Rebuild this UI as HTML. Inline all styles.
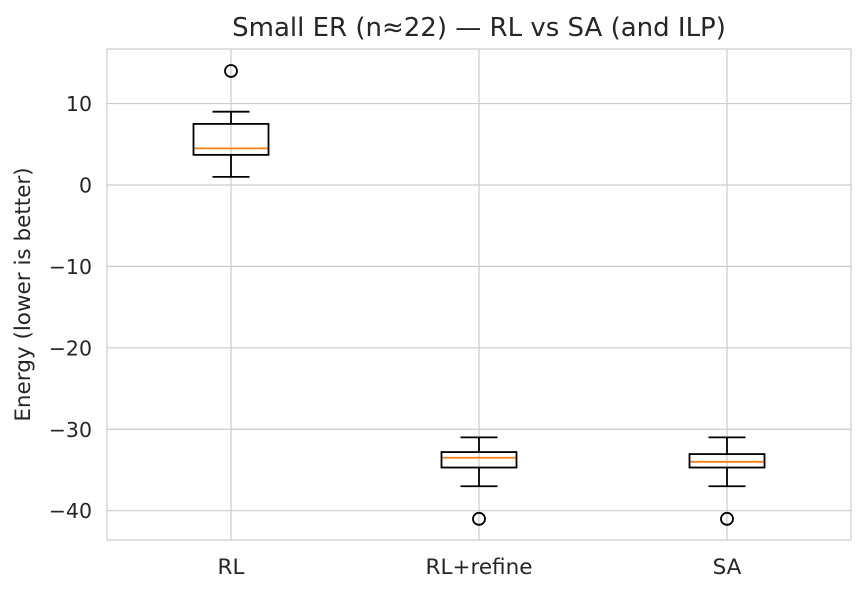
<!DOCTYPE html>
<html><head><meta charset="utf-8"><style>
body{margin:0;background:#fff;font-family:"DejaVu Sans","Liberation Sans",sans-serif;}
</style></head><body>
<svg id="chart" width="867" height="593" xmlns="http://www.w3.org/2000/svg" font-family="DejaVu Sans, Liberation Sans, sans-serif"></svg>
<script>
const categories=["RL","RL+refine","SA"];
const whiskerLow=[1,-37,-37];
const q1=[3.7,-34.7,-34.7];
const medians=[4.5,-33.5,-34.0];
const q3=[7.5,-32.8,-33.05];
const whiskerHigh=[9,-31,-31];
const outliers=[[14],[-41],[-41]];
const yTicks=[10,0,-10,-20,-30,-40];
const tickLabels=["10","0","\u221210","\u221220","\u221230","\u221240"];

const L=107,R=851,T=49,B=540;
const yMin=-43.6,yMax=16.7;
const y=v=>T+(yMax-v)/(yMax-yMin)*(B-T);
const x=i=>L+(i+0.5)/3*(R-L);
const svg=document.getElementById('chart');
const NS="http://www.w3.org/2000/svg";
function mk(tag,attrs,parent){const e=document.createElementNS(NS,tag);for(const k in attrs)e.setAttribute(k,attrs[k]);(parent||svg).appendChild(e);return e;}

const grid=mk('g',{});


yTicks.forEach((t,i)=>{
  const l=mk('line',{x1:L,x2:R,y1:y(t),y2:y(t),stroke:'#cccccc','stroke-width':1.2},grid);
  
  
  const tx=mk('text',{x:L-15,y:y(t)+7.5,'text-anchor':'end','font-size':20.5,fill:'#262626'});
  tx.textContent=tickLabels[i];
  
  
});
categories.forEach((c,i)=>{
  const l=mk('line',{x1:x(i),x2:x(i),y1:T,y2:B,stroke:'#cccccc','stroke-width':1.2},grid);
  
  
  const tx=mk('text',{x:x(i),y:B+34,'text-anchor':'middle','font-size':21.5,fill:'#262626'});
  tx.textContent=c;
  
  
});
const frame=mk('rect',{x:L,y:T,width:R-L,height:B-T,fill:'none',stroke:'#cccccc','stroke-width':1.2});



const bw=75,cw=37;
categories.forEach((c,i)=>{
  const g=mk('g',{stroke:'#000','stroke-width':1.8,fill:'none'});
  
  
  const cx=x(i);
  mk('line',{x1:cx,x2:cx,y1:y(q3[i]),y2:y(whiskerHigh[i])},g);
  mk('line',{x1:cx,x2:cx,y1:y(q1[i]),y2:y(whiskerLow[i])},g);
  mk('line',{x1:cx-cw/2,x2:cx+cw/2,y1:y(whiskerHigh[i]),y2:y(whiskerHigh[i])},g);
  mk('line',{x1:cx-cw/2,x2:cx+cw/2,y1:y(whiskerLow[i]),y2:y(whiskerLow[i])},g);
  mk('rect',{x:cx-bw/2,y:y(q3[i]),width:bw,height:y(q1[i])-y(q3[i])},g);
  const m=mk('line',{x1:cx-bw/2+1,x2:cx+bw/2-1,y1:y(medians[i]),y2:y(medians[i]),stroke:'#ff7f0e'},g);
  
  
  outliers[i].forEach(o=>{
    const p=mk('circle',{cx:cx,cy:y(o),r:6,stroke:'#000','stroke-width':1.8,fill:'none'},g);
    
    
  });
});
const title=mk('text',{x:(L+R)/2,y:36,'text-anchor':'middle','font-size':26,fill:'#262626'});
title.textContent="Small ER (n\u224822) \u2014 RL vs SA (and ILP)";


const yt=mk('text',{x:0,y:0,'text-anchor':'middle','font-size':21.5,fill:'#262626',transform:`translate(30,${(T+B)/2}) rotate(-90)`});
yt.textContent="Energy (lower is better)";


</script>
</body></html>
